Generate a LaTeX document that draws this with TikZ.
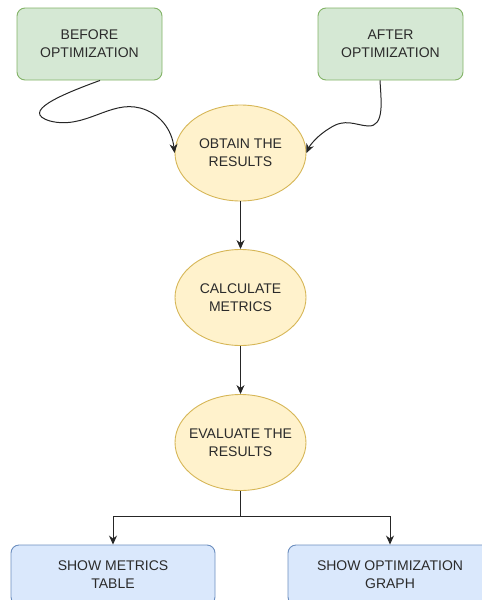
\documentclass[tikz,border=0pt]{standalone}
\usepackage{fontspec}
\setmainfont{Liberation Sans}
\usepackage{tikz}
\usetikzlibrary{positioning,calc,shapes.geometric,arrows.meta}
\definecolor{FlowGreen}{HTML}{D5E8D4}
\definecolor{FlowGreenLine}{HTML}{82B366}
\definecolor{FlowYellow}{HTML}{FFF2CC}
\definecolor{FlowYellowLine}{HTML}{D6B656}
\definecolor{FlowBlue}{HTML}{DAE8FC}
\definecolor{FlowBlueLine}{HTML}{6C8EBF}
\definecolor{FlowText}{HTML}{2B2B2B}
\tikzset{
  txt/.style={align=center,text=FlowText,font=\fontsize{14}{18}\selectfont,inner sep=0pt},
  inbox/.style={txt,draw=FlowGreenLine,fill=FlowGreen,line width=0.9pt,rounded corners=8pt,minimum width=145pt,minimum height=72pt},
  stepell/.style={txt,ellipse,inner xsep=-15pt,draw=FlowYellowLine,fill=FlowYellow,line width=0.9pt,minimum width=131pt,minimum height=96pt},
  outbox/.style={txt,draw=FlowBlueLine,fill=FlowBlue,line width=0.9pt,rounded corners=8pt,minimum width=204pt,minimum height=60pt},
  link/.style={draw=black!85,line width=1pt,-{Stealth[length=9pt,width=8pt]}}
}
\begin{document}
\begin{tikzpicture}[x=1pt,y=-1pt]
        \useasboundingbox (0,0) rectangle (482,600);
        \clip (0,0) rectangle (482,600);
        % inputs
        \node[inbox] (before) at (89.5,44) {BEFORE\\OPTIMIZATION};
        \node[inbox] (after) at (390.5,44) {AFTER\\OPTIMIZATION};
        % main steps
        \node[stepell] (obtain) at (240.5,153) {OBTAIN THE\\RESULTS};
        \node[stepell] (calc) at (240.5,297.5) {CALCULATE\\METRICS};
        \node[stepell] (evaluate) at (240.5,442.5) {EVALUATE THE\\RESULTS};
        % outputs
        \node[outbox] (metrics) at (113,575) {SHOW METRICS\\TABLE};
        \node[outbox] (graph) at (390,575) {SHOW OPTIMIZATION\\GRAPH};
        % connectors
        \draw[link] ([xshift=10.5pt]before.south) .. controls (60,95) and (20,112) .. (50,121)
          .. controls (85,130) and (110,100) .. (140,108)
          .. controls (160,113) and (172,130) .. (obtain.west);
        \draw[link] ([xshift=-10.5pt]after.south) .. controls (381,100) and (385,127) .. (368,126)
          .. controls (355,125) and (345,118) .. (330,128)
          .. controls (318,135) and (310,145) .. (obtain.east);
        \draw[link] (obtain) -- (calc);
        \draw[link] (calc) -- (evaluate);
        \draw[link] (evaluate.south) -- ++(0,26) -| (metrics.north);
        \draw[link] (evaluate.south) -- ++(0,26) -| (graph.north);
      \end{tikzpicture}
\end{document}
